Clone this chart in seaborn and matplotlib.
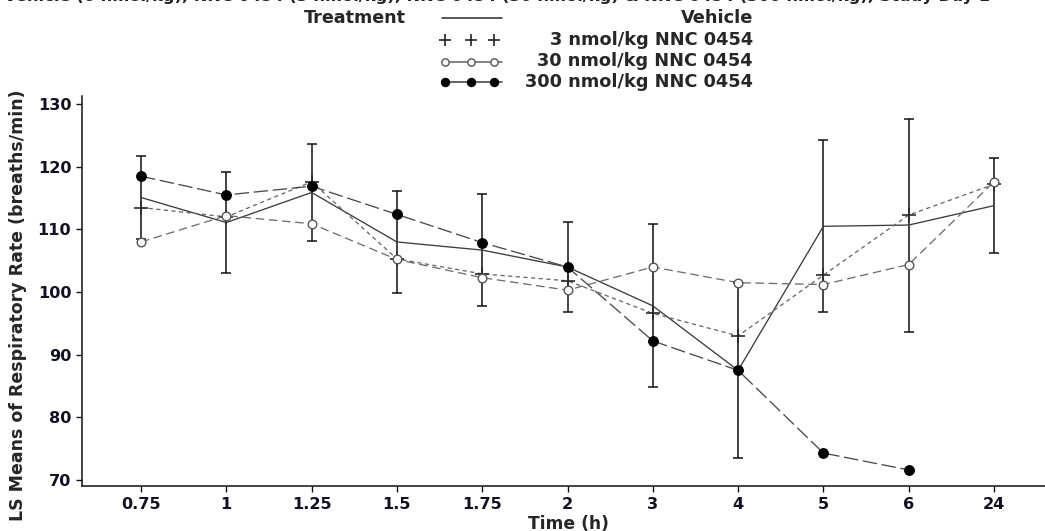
import numpy as np
import pandas as pd
import matplotlib
matplotlib.use("Agg")
import matplotlib.pyplot as plt
from matplotlib.lines import Line2D
import seaborn as sns

# Time points (categorical axis) and LS means per treatment group
times = ["0.75", "1", "1.25", "1.5", "1.75", "2", "3", "4", "5", "6", "24"]
vehicle = [115.1, 111.1, 115.9, 108.0, 106.7, 104.0, 97.8, 87.5, 110.5, 110.7, 113.8]
vehicle_se = [6.7, 8.1, 7.7, 8.15, 8.9, 7.15, 13.0, 14.0, 13.7, 17.0, 7.6]
nnc_3 = [113.5, 112.0, 117.6, 105.3, 102.9, 101.8, 96.6, 93.0, 102.7, 112.3, 117.2]
nnc_30 = [108.0, 112.2, 110.9, 105.2, 102.3, 100.3, 104.0, 101.5, 101.2, 104.4, 117.6]
nnc_300 = [118.5, 115.5, 116.9, 112.4, 107.9, 104.0, 92.2, 87.5, 74.3, 71.6, np.nan]

labels = ["Vehicle", "3 nmol/kg NNC 0454", "30 nmol/kg NNC 0454", "300 nmol/kg NNC 0454"]
series = [vehicle, nnc_3, nnc_30, nnc_300]

sns.set_theme(style="ticks")
plt.rcParams["font.family"] = ["DejaVu Sans"]
plt.rcParams["font.weight"] = "bold"

W, H = 1045, 531
fig = plt.figure(figsize=(W / 100, H / 100), dpi=100)


def fx(px):
    return px / W


def fy(py):
    return 1 - py / H


ax = fig.add_axes([fx(82), fy(486), 1 - fx(82), fy(96) - fy(486)])

pos = np.arange(len(times))
df = pd.DataFrame({"pos": np.tile(pos, 4),
                   "value": np.concatenate(series),
                   "group": np.repeat(labels, len(times))})

styles = {
    "Vehicle": dict(color="#3c3c3c", linestyle="-", marker=None),
    "3 nmol/kg NNC 0454": dict(color="#6a6a6a", linestyle=(0, (3.2, 2.6)), marker="+",
                               markersize=10, markeredgewidth=1.2, markeredgecolor="#2a2a2a"),
    "30 nmol/kg NNC 0454": dict(color="#6e6e6e", linestyle=(0, (6.5, 3.5)), marker="o",
                                markersize=6.2, markerfacecolor="white",
                                markeredgecolor="#555555", markeredgewidth=1.0),
    "300 nmol/kg NNC 0454": dict(color="#4a4a4a", linestyle=(0, (11, 3.5)), marker="o",
                                 markersize=7, markerfacecolor="black",
                                 markeredgecolor="black", markeredgewidth=0.8),
}

# Vehicle error bars (mean +/- SE)
ax.errorbar(pos, vehicle, yerr=vehicle_se, fmt="none", ecolor="#111111",
            elinewidth=1.1, capsize=3.8, capthick=1.1, zorder=2)

for name in labels:
    sub = df[df["group"] == name].dropna()
    sns.lineplot(data=sub, x="pos", y="value", ax=ax, errorbar=None,
                 linewidth=0.95, zorder=3, legend=False, **styles[name])

ax.set_xlim((82 - 141) / 85.3, (W - 141) / 85.3)
ax.set_ylim(69.04, 131.3)
ax.set_xticks(pos)
ax.set_xticklabels(times)
ax.set_yticks(np.arange(70, 131, 10))

for side in ["top", "right"]:
    ax.spines[side].set_visible(False)
for side in ["left", "bottom"]:
    ax.spines[side].set_linewidth(1.1)
    ax.spines[side].set_color("#111111")

ax.tick_params(axis="both", direction="out", length=4.2, width=1.0, color="#111111",
               labelsize=11.6, pad=3.5, labelcolor="#111122")
for t in ax.get_xticklabels() + ax.get_yticklabels():
    t.set_fontweight("bold")

ax.set_xlabel("Time (h)", fontsize=12.3, fontweight="bold", va="center")
ax.xaxis.set_label_coords((569 - 82) / (W - 82), (486 - 524) / 390)
ax.set_ylabel("LS Means of Respiratory Rate (breaths/min)", fontsize=12.5,
              fontweight="bold", va="center")
ax.yaxis.set_label_coords((18 - 82) / (W - 82), (486 - 305) / 390)

# Page heading, mostly above the top edge of the page
fig.text(fx(497), fy(4.5), "Vehicle (0 nmol/kg), NNC 0454 (3 nmol/kg), NNC 0454 (30 nmol/kg) "
         "& NNC 0454 (300 nmol/kg), Study Day 1",
         fontsize=11.7, fontweight="bold", ha="center", va="bottom", color="#222222")

# Legend block: title at left, samples, right-aligned labels
fig.text(fx(406), fy(17.7), "Treatment", fontsize=12.6, fontweight="bold",
         ha="right", va="center")
rows_y = [17.7, 40, 61.5, 82]
mk_x = [445, 471, 494]
for name, py in zip(labels, rows_y):
    st = styles[name]
    if name == "Vehicle":
        fig.add_artist(Line2D([fx(442), fx(502)], [fy(py), fy(py)], color=st["color"],
                              lw=1.2, transform=fig.transFigure))
    elif name.startswith("3 "):
        fig.add_artist(Line2D([fx(x) for x in mk_x], [fy(py)] * 3, linestyle="none",
                              marker="+", markersize=9, markeredgewidth=1.2,
                              color="#222222", transform=fig.transFigure))
    else:
        fig.add_artist(Line2D([fx(442), fx(502)], [fy(py), fy(py)], color=st["color"],
                              lw=1.2, transform=fig.transFigure))
        fig.add_artist(Line2D([fx(x) for x in mk_x], [fy(py)] * 3, linestyle="none",
                              marker="o", markersize=st["markersize"] * 0.85,
                              markerfacecolor=st["markerfacecolor"],
                              markeredgecolor=st["markeredgecolor"],
                              markeredgewidth=st["markeredgewidth"],
                              transform=fig.transFigure))
    fig.text(fx(753), fy(py), name, fontsize=12.8, fontweight="bold",
             ha="right", va="center")

fig.savefig("out.png", dpi=100)
